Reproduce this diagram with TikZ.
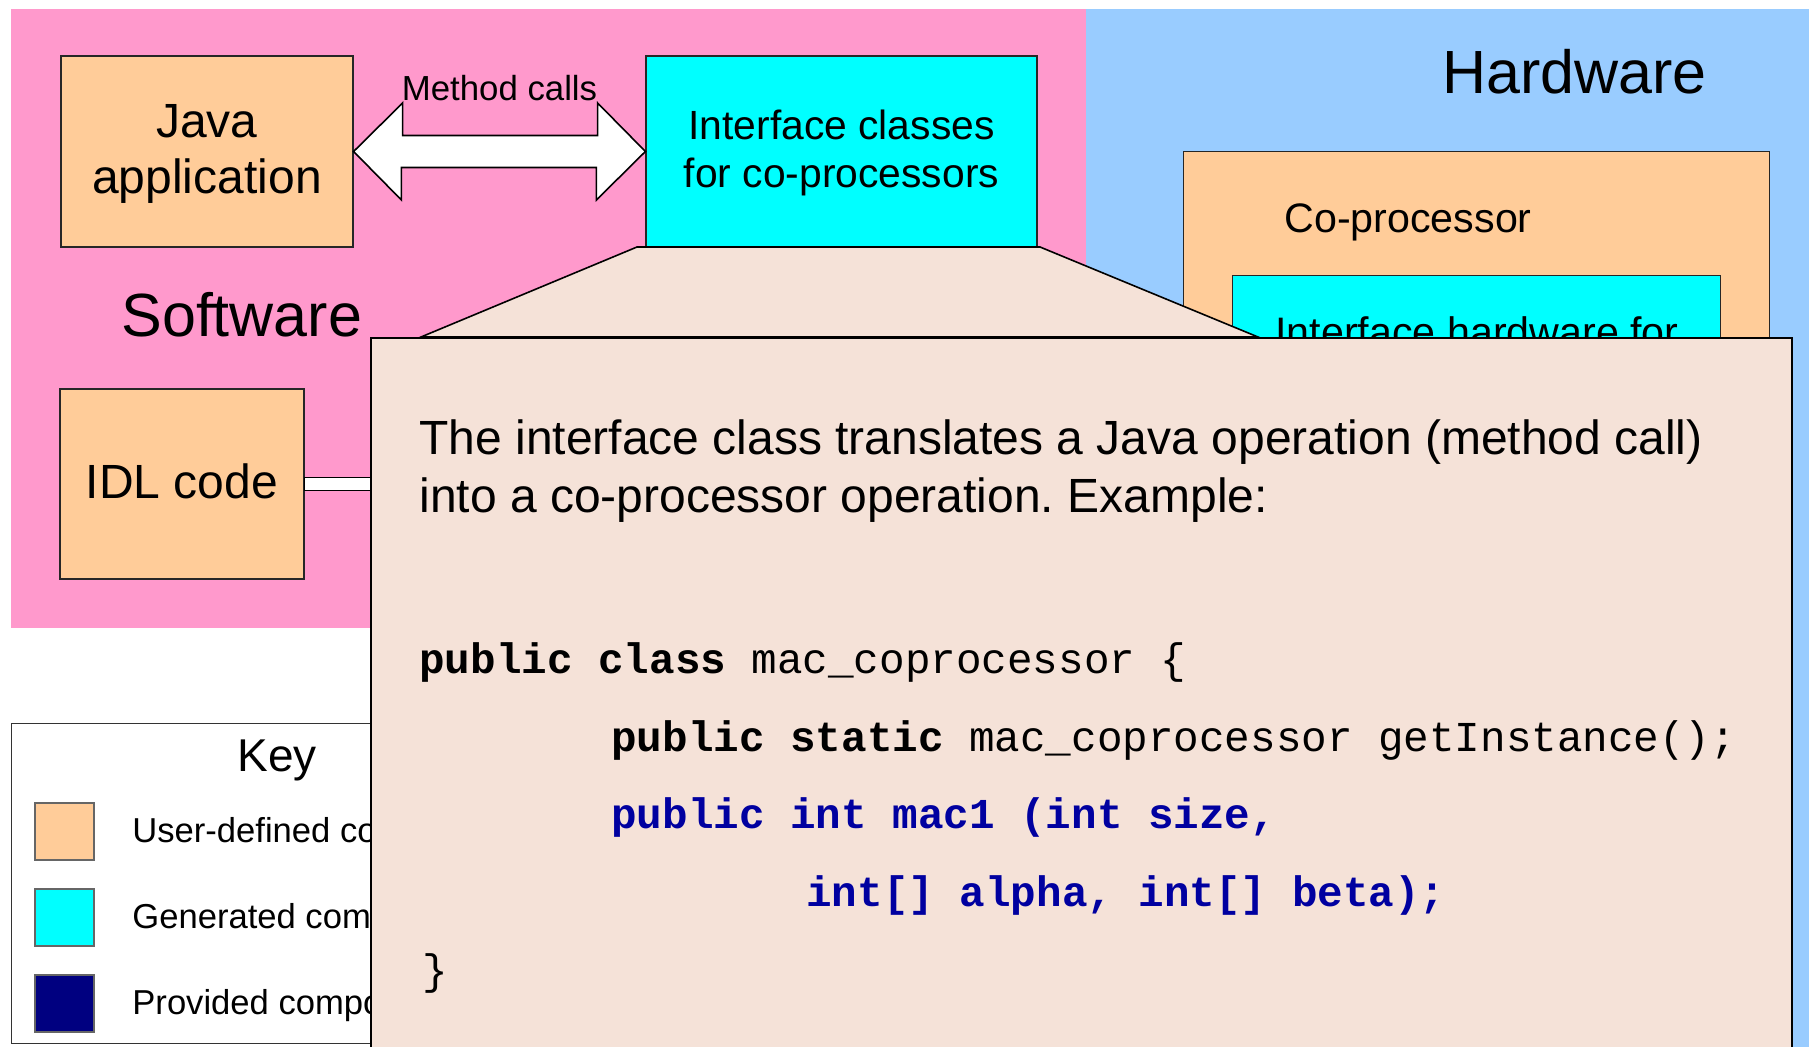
\documentclass[tikz,border=0pt]{standalone}
\usepackage{fontspec}
\setmainfont{Liberation Sans}
\setmonofont{Liberation Mono}
\usetikzlibrary{calc}
\frenchspacing
\definecolor{swpink}{RGB}{255,153,204}
\definecolor{hwblue}{RGB}{153,204,255}
\definecolor{userorange}{RGB}{255,204,153}
\definecolor{gencyan}{RGB}{0,255,255}
\definecolor{provnavy}{RGB}{0,0,128}
\definecolor{popupfill}{RGB}{245,226,216}
\definecolor{codeblue}{RGB}{0,0,160}
\begin{document}
\begin{tikzpicture}[x=0.5pt,y=-0.5pt,
  box/.style={draw=black!85, line width=0.6pt, inner sep=0pt, align=center},
  userbox/.style={box, fill=userorange},
  genbox/.style={box, fill=gencyan},
  swatch/.style={draw=black!60, line width=0.6pt, inner sep=0pt, minimum width=29.5pt, minimum height=28.5pt},
  bigtitle/.style={inner sep=0pt, font=\fontsize{30.5pt}{34pt}\selectfont},
  boxtext/.style={font=\fontsize{24pt}{28pt}\selectfont},
  midtext/.style={inner sep=0pt, font=\fontsize{20.6pt}{23pt}\selectfont},
  keytext/.style={inner sep=0pt, anchor=base west, font=\fontsize{17.3pt}{20pt}\selectfont},
  poptext/.style={inner sep=0pt, anchor=base west, font=\fontsize{24pt}{29pt}\selectfont},
  codetext/.style={inner sep=0pt, anchor=base west, font=\ttfamily\fontsize{21.3pt}{25pt}\selectfont},
  outline/.style={draw=black, line width=0.8pt}
]
\useasboundingbox (0,0) rectangle (1809,1047);
\clip (0,0) rectangle (1809,1047);

% background regions
\fill[swpink] (11,9) rectangle (1086,628);
\fill[hwblue] (1086,9) rectangle (1815,1060);

% hardware side
\node[bigtitle, anchor=base west] (hwlabel) at (1442,94) {Hardware};
\node[userbox, anchor=north west, minimum width=293pt, minimum height=450pt] (copro) at (1183,151) {};
\node[midtext, anchor=base west] (coprolabel) at (1284,233) {Co-processor};
\node[genbox, anchor=north west, minimum width=244pt, minimum height=350pt] (ifhw) at (1232,275) {};
\node[midtext, anchor=base] (ifhwlabel) at (1477,347) {Interface hardware for};

% software side
\node[userbox, anchor=center, minimum width=146pt, minimum height=95.5pt] (java) at (207,151.5) {};
\node[boxtext, inner sep=0pt, align=center] (javalabel) at (207,154) {Java\\application};
\node[genbox, minimum width=195.5pt, minimum height=95.5pt] (ifc) at (841.5,151.5) {};
\node[inner sep=0pt, align=center, font=\fontsize{20.4pt}{24pt}\selectfont] (ifclabel) at (841.5,153) {Interface classes\\for co-processors};
\node[bigtitle, anchor=base west] (swlabel) at (121,337) {Software};
\node[userbox, minimum width=122pt, minimum height=95pt] (idl) at (182,484) {};
\node[boxtext, inner sep=0pt] (idllabel) at (182,481) {IDL code};

% method call arrow
\draw[outline, fill=white, line join=miter]
  (java.east) -- ++(49,-48.5) -- ++(0,32.5) -- ++(195,0) -- ++(0,-32.5)
  -- (ifc.west) -- ++(-49,48.5) -- ++(0,-32.5) -- ++(-195,0) -- ++(0,32.5) -- cycle;
\node[inner sep=0pt, anchor=base, font=\fontsize{17.4pt}{20pt}\selectfont] (mclabel) at (499.5,101) {Method calls};

% IDL connector
\draw[outline, fill=white] ($(idl.east)+(0,-6.5)$) rectangle ($(idl.east)+(70,6.5)$);

% key
\node[draw=black!80, line width=0.6pt, fill=white, anchor=north west, minimum width=300pt, minimum height=160pt, inner sep=0pt] (keybox) at (11,723) {};
\node[inner sep=0pt, anchor=base west, font=\fontsize{23pt}{26pt}\selectfont] (keytitle) at (237,771) {Key};
\node[swatch, fill=userorange] (sw1) at (64.5,831.5) {};
\node[swatch, fill=gencyan] (sw2) at (64.5,917.5) {};
\node[swatch, fill=provnavy] (sw3) at (64.5,1003.5) {};
\node[keytext] (k1) at (132,842) {User-defined components};
\node[keytext] (k2) at (132,928) {Generated components};
\node[keytext] (k3) at (132,1014) {Provided components};

% callout
\draw[outline, fill=popupfill, line join=miter] (637,247) -- (421,337) -- (1258,337) -- (1040,247) -- cycle;
\node[draw=black, line width=1pt, fill=popupfill, anchor=north west, minimum width=710.5pt, minimum height=400pt, inner sep=0pt] (popup) at (370,337) {};

\node[poptext] (p1) at (419,455) {The interface class translates a Java operation (method call)};
\node[poptext] (p2) at (419,513) {into a co-processor operation. Example:};

\node[codetext] (c1) at (419,673) {\textbf{public class} mac\_coprocessor \{};
\node[codetext] (c2) at (611,751) {\textbf{public static} mac\_coprocessor getInstance();};
\node[codetext, text=codeblue, font=\ttfamily\bfseries\fontsize{21.3pt}{25pt}\selectfont] (c3) at (611,828) {public int mac1 (int size,};
\node[codetext, text=codeblue, font=\ttfamily\bfseries\fontsize{21.3pt}{25pt}\selectfont] (c4) at (806,906) {int[] alpha, int[] beta);};
\node[codetext] (c5) at (422,984) {\}};
\end{tikzpicture}
\end{document}
